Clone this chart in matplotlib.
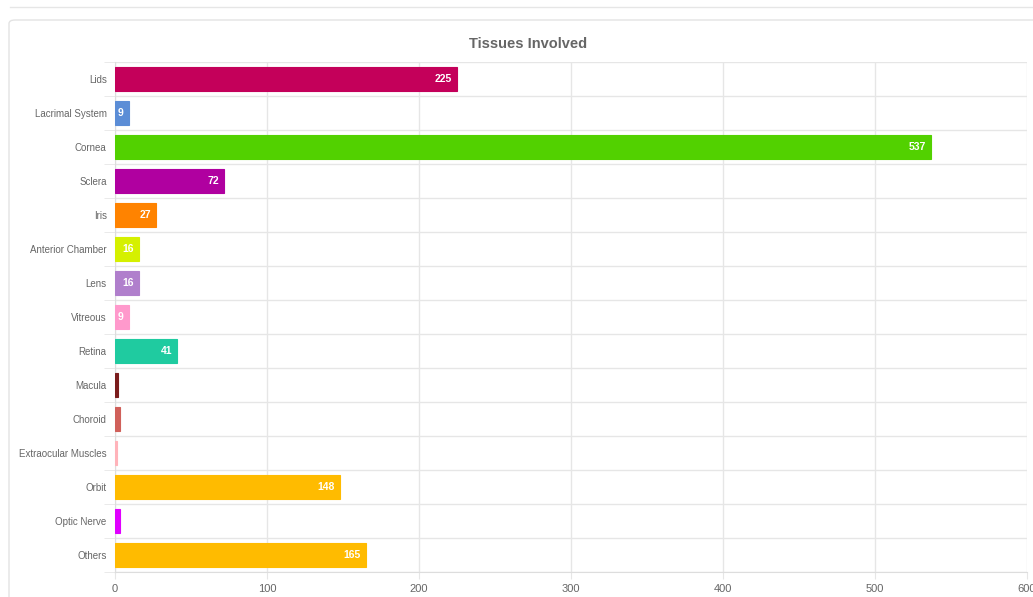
import matplotlib
matplotlib.use("Agg")
import matplotlib.pyplot as plt
from matplotlib.patches import FancyBboxPatch
from matplotlib.lines import Line2D
import numpy as np

plt.rcParams['font.family'] = ['Liberation Sans', 'DejaVu Sans']

categories = ["Lids", "Lacrimal System", "Cornea", "Sclera", "Iris", "Anterior Chamber",
              "Lens", "Vitreous", "Retina", "Macula", "Choroid", "Extraocular Muscles",
              "Orbit", "Optic Nerve", "Others"]
values = [225, 9, 537, 72, 27, 16, 16, 9, 41, 2, 3, 1, 148, 3, 165]
colors = ["#C4005A", "#5B8DD6", "#52D100", "#B000A0", "#FF8300", "#D5F000",
          "#B07FCC", "#FF99CC", "#1FCBA0", "#7A1C1C", "#D0605A", "#FFB3BA",
          "#FFBB00", "#E000FF", "#FFBB00"]
x_ticks = [0, 100, 200, 300, 400, 500, 600]

W, H = 1033, 597
fig = plt.figure(figsize=(W / 100, H / 100), dpi=100)
fig.patch.set_facecolor("white")

# card decorations
fig.add_artist(Line2D([10 / W, 1], [1 - 7 / H, 1 - 7 / H], color="#e6e6e6", lw=1, zorder=-10))
card = FancyBboxPatch((9 / W, -0.05), 1.1, (H - 20) / H + 0.05,
                      boxstyle="round,pad=0,rounding_size=0.006",
                      transform=fig.transFigure, fc="white", ec="#e3e3e3", lw=1, zorder=-10)
fig.add_artist(card)

ax = fig.add_axes([115 / W, (H - 572) / H, (1027 - 115) / W, (572 - 62) / H])
ax.set_zorder(5)
ax.set_facecolor("none")
n = len(categories)
y = np.arange(n)
ax.barh(y, values, height=0.72, color=colors, edgecolor=colors, lw=0.8, zorder=3)
ax.set_xlim(0, 600)
ax.set_ylim(n - 0.5, -0.5)
ax.set_yticks(y)
ax.set_yticklabels(categories)
ax.set_yticks(np.arange(-0.5, n, 1), minor=True)
ax.set_xticks(x_ticks)
ax.tick_params(axis="y", which="major", length=0, pad=6, labelsize=7, labelcolor="#666666")
ax.tick_params(axis="y", which="minor", length=8, color="#e6e6e6")
ax.tick_params(axis="x", length=5, color="#e6e6e6", labelsize=8, labelcolor="#666666", pad=4)
ax.grid(axis="x", color="#e6e6e6", lw=1, zorder=0)
ax.grid(axis="y", which="minor", color="#e6e6e6", lw=1, zorder=0)
for s in ["top", "right"]:
    ax.spines[s].set_visible(False)
ax.spines["left"].set_color("#dddddd")
ax.spines["bottom"].set_color("#dddddd")

px_per_unit = (1027 - 115) / 600.0
for yi, v in zip(y, values):
    if v < 5:
        continue
    txt = str(v)
    tw = len(txt) * 6.5
    xr_px = v * px_per_unit - 5
    if xr_px - tw < 2:
        xr_px = tw + 2
    ax.text(xr_px / px_per_unit, yi, txt, ha="right", va="center", color="white",
            fontsize=7.5, fontweight="bold", zorder=4)

fig.text(528 / W, 1 - 44 / H, "Tissues Involved", ha="center", va="center",
         fontsize=10.5, fontweight="bold", color="#666666")

fig.savefig("out.png", dpi=100, facecolor="white")
